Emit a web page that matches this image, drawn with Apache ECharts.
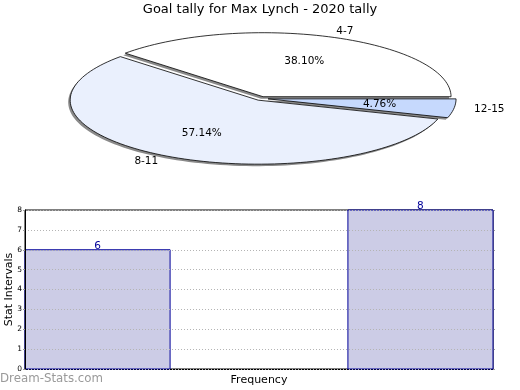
<!DOCTYPE html>
<html>
<head>
<meta charset="utf-8">
<script src="https://cdn.jsdelivr.net/npm/echarts@6/dist/echarts.min.js"></script>
<style>
  html, body { margin: 0; padding: 0; background: #fff; }
  #chart { width: 520px; height: 390px; }
</style>
</head>
<body>
<div id="chart"></div>
<script>
// ---- data ----
const chartTitle = 'Goal tally for Max Lynch - 2020 tally';
const pieLabels = ['4-7', '8-11', '12-15'];
const pieValues = [8, 12, 1];
const barBinEdges = [0, 0.31, 0.69, 1];
const barCounts = [6, 0, 8];
const yTickMin = 0, yTickMax = 8, yTickStep = 1;
const xAxisName = 'Frequency';
const yAxisName = 'Stat Intervals';
const watermark = 'Dream-Stats.com';

// ---- styling ----
const FONT = 'DejaVu Sans';
const sliceColors = ['#ffffff', '#eaf0fd', '#c6d9fd'];
const sliceExplode = [0.03, 0.03, 0.038];

const total = pieValues.reduce((a, b) => a + b, 0);
const startAngles = [];
let acc = 0;
pieValues.forEach(v => { startAngles.push(acc); acc += v / total * Math.PI * 2; });

function renderSlice(params, api) {
  const i = params.dataIndex;
  const a0 = startAngles[i];
  const a1 = a0 + pieValues[i] / total * Math.PI * 2;
  const mid = (a0 + a1) / 2;
  const ox = Math.cos(mid) * sliceExplode[i];
  const oy = Math.sin(mid) * sliceExplode[i];
  const pts = [api.coord([ox, oy])];
  const steps = Math.max(4, Math.ceil((a1 - a0) / (Math.PI * 2) * 180));
  for (let s = 0; s <= steps; s++) {
    const t = a0 + (a1 - a0) * s / steps;
    pts.push(api.coord([ox + Math.cos(t), oy + Math.sin(t)]));
  }
  const shadowPts = pts.map(p => [p[0] - 2, p[1] + 2]);
  const pctPos = api.coord([ox + Math.cos(mid) * 0.6, oy + Math.sin(mid) * 0.6]);
  const lblPos = api.coord([ox + Math.cos(mid) * 1.19, oy + Math.sin(mid) * 1.1]);
  return {
    type: 'group',
    children: [
      {
        type: 'polygon', z2: 1,
        shape: { points: shadowPts },
        style: { fill: '#8a8a8a', stroke: null }
      },
      {
        type: 'polygon', z2: 5,
        shape: { points: pts },
        style: { fill: sliceColors[i], stroke: '#000', lineWidth: 0.8 }
      },
      {
        type: 'text', x: pctPos[0], y: pctPos[1], z2: 10,
        style: {
          text: (pieValues[i] / total * 100).toFixed(2) + '%',
          fill: '#000', font: '10.5px ' + FONT, align: 'center', verticalAlign: 'middle'
        }
      },
      {
        type: 'text', x: lblPos[0], y: lblPos[1], z2: 10,
        style: {
          text: pieLabels[i],
          fill: '#000', font: '10.5px ' + FONT, align: 'center', verticalAlign: 'middle'
        }
      }
    ]
  };
}

function renderBar(params, api) {
  const x0 = api.value(0), x1 = api.value(1), y = api.value(2);
  if (!y) return { type: 'group', children: [] };
  const p0 = api.coord([x0, 0]);
  const p1 = api.coord([x1, y]);
  return {
    type: 'group',
    children: [
      {
        type: 'rect',
        shape: { x: p0[0], y: p1[1], width: p1[0] - p0[0], height: p0[1] - p1[1] },
        style: { fill: '#ccccE6', stroke: '#000099', lineWidth: 1 }
      },
      {
        type: 'text', x: (p0[0] + p1[0]) / 2, y: p1[1] + 2,
        style: {
          text: String(y), fill: '#000099', font: '10.5px ' + FONT,
          align: 'center', verticalAlign: 'bottom'
        }
      }
    ]
  };
}

const chart = echarts.init(document.getElementById('chart'), null, { renderer: 'canvas' });
chart.setOption({
  animation: false,
  backgroundColor: '#fff',
  title: {
    text: chartTitle, left: 'center', top: 3, padding: 0,
    textStyle: { fontFamily: FONT, fontSize: 13, fontWeight: 'normal', color: '#000' }
  },
  graphic: [{
    type: 'text', left: 0, top: 373,
    style: { text: watermark, fill: '#9a9a9a', font: '11.8px ' + FONT }
  }],
  grid: [
    { left: 73, width: 376, top: 34.5, height: 128, show: false, containLabel: false, outerBoundsMode: 'none' },
    { left: 25, right: 27, top: 210, bottom: 21, show: true, borderColor: '#000', borderWidth: 1,
      backgroundColor: 'transparent', containLabel: false, outerBoundsMode: 'none' }
  ],
  xAxis: [
    { gridIndex: 0, type: 'value', min: -1, max: 1, show: false },
    {
      gridIndex: 1, type: 'value', min: barBinEdges[0], max: barBinEdges[barBinEdges.length - 1],
      name: xAxisName, nameLocation: 'middle', nameGap: 6, nameMoveOverlap: false,
      nameTextStyle: { fontFamily: FONT, fontSize: 11, color: '#000' },
      axisLine: { show: true, lineStyle: { color: '#000' } },
      axisTick: { show: false }, axisLabel: { show: false }, splitLine: { show: false }
    }
  ],
  yAxis: [
    { gridIndex: 0, type: 'value', min: -1, max: 1, show: false },
    {
      gridIndex: 1, type: 'value', min: yTickMin, max: yTickMax, interval: yTickStep, z: 10,
      name: yAxisName, nameLocation: 'middle', nameGap: 10, nameMoveOverlap: false,
      nameTextStyle: { fontFamily: FONT, fontSize: 11, color: '#000' },
      axisLine: { show: true, lineStyle: { color: '#000' } },
      axisTick: { show: true, length: 2, lineStyle: { color: '#999' } },
      axisLabel: { fontFamily: FONT, fontSize: 7.5, color: '#000', margin: 3 },
      splitLine: { show: true, lineStyle: { color: '#b4b4b4', type: [1, 2], width: 1 } }
    },
    {
      gridIndex: 1, type: 'value', min: yTickMin, max: yTickMax, interval: yTickStep, position: 'right',
      axisLine: { show: false }, axisLabel: { show: false }, splitLine: { show: false },
      axisTick: { show: true, length: 2, lineStyle: { color: '#999' } }
    }
  ],
  series: [
    {
      type: 'custom', xAxisIndex: 0, yAxisIndex: 0,
      data: pieValues.map((v, i) => [i, v]),
      renderItem: renderSlice
    },
    {
      type: 'custom', xAxisIndex: 1, yAxisIndex: 1, z: 2,
      data: barCounts.map((c, i) => [barBinEdges[i], barBinEdges[i + 1], c]),
      encode: { x: [0, 1], y: 2 },
      renderItem: renderBar
    }
  ]
});
</script>
</body>
</html>
